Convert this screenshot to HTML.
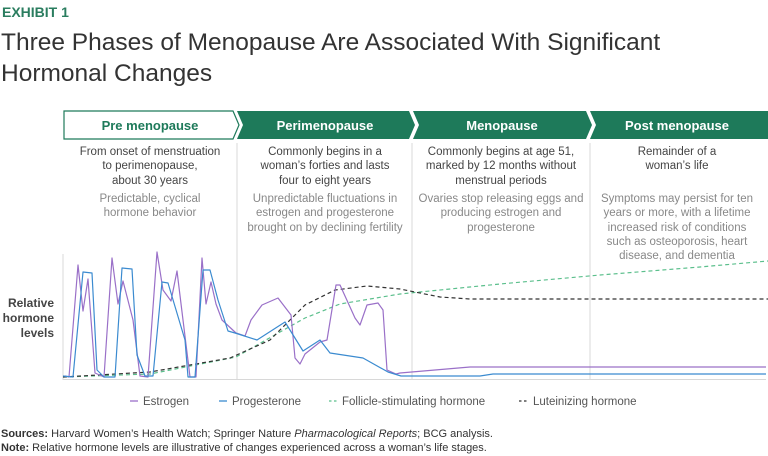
<!DOCTYPE html>
<html><head><meta charset="utf-8"><style>
body{margin:0;background:#fff;}
svg{display:block;font-family:"Liberation Sans",sans-serif;}
</style></head><body>
<svg width="768" height="456" viewBox="0 0 768 456">
<text x="2" y="17" font-size="14" font-weight="bold" fill="#2a7d5f">EXHIBIT 1</text>
<text x="1" y="50" font-size="24.5" fill="#333">Three Phases of Menopause Are Associated With Significant</text>
<text x="1" y="81" font-size="24.5" fill="#333">Hormonal Changes</text>

<polygon points="64,111 233,111 239,125 233,139 64,139" fill="#fff" stroke="#1e7a5a" stroke-width="1.2"/>
<polygon points="237,111 409,111 415,125 409,139 237,139 243,125" fill="#1e7a5a"/>
<polygon points="413,111 586,111 592,125 586,139 413,139 419,125" fill="#1e7a5a"/>
<polygon points="590,111 768,111 768,139 590,139 596,125" fill="#1e7a5a"/>
<g font-size="13" font-weight="bold" text-anchor="middle">
<text x="150" y="130" fill="#1e7a5a">Pre menopause</text>
<text x="325" y="130" fill="#fff">Perimenopause</text>
<text x="502" y="130" fill="#fff">Menopause</text>
<text x="677" y="130" fill="#fff">Post menopause</text>
</g>
<g stroke="#d8d8d8" stroke-width="1">
<line x1="237" y1="143" x2="237" y2="380"/>
<line x1="412" y1="143" x2="412" y2="380"/>
<line x1="590" y1="143" x2="590" y2="380"/>
<line x1="63" y1="254" x2="63" y2="380"/>
<line x1="63" y1="379.5" x2="766" y2="379.5"/>
</g>
<g font-size="11.5" text-anchor="middle" fill="#444">
<text x="150" y="155">From onset of menstruation</text>
<text x="150" y="169">to perimenopause,</text>
<text x="150" y="184">about 30 years</text>
<text x="325" y="155">Commonly begins in a</text>
<text x="325" y="169">woman’s forties and lasts</text>
<text x="325" y="184">four to eight years</text>
<text x="501" y="155">Commonly begins at age 51,</text>
<text x="501" y="169">marked by 12 months without</text>
<text x="501" y="184">menstrual periods</text>
<text x="677" y="155">Remainder of a</text>
<text x="677" y="169">woman’s life</text>
</g>
<g font-size="11.5" text-anchor="middle" fill="#888">
<text x="150" y="202">Predictable, cyclical</text>
<text x="150" y="216">hormone behavior</text>
<text x="325" y="202">Unpredictable fluctuations in</text>
<text x="325" y="216">estrogen and progesterone</text>
<text x="325" y="231">brought on by declining fertility</text>
<text x="501" y="202">Ovaries stop releasing eggs and</text>
<text x="501" y="216">producing estrogen and</text>
<text x="501" y="231">progesterone</text>
<text x="677" y="202">Symptoms may persist for ten</text>
<text x="677" y="216">years or more, with a lifetime</text>
<text x="677" y="231">increased risk of conditions</text>
<text x="677" y="245">such as osteoporosis, heart</text>
<text x="677" y="259">disease, and dementia</text>
</g>
<g font-size="12" font-weight="bold" fill="#444" text-anchor="end">
<text x="54" y="307">Relative</text>
<text x="54" y="322">hormone</text>
<text x="54" y="337">levels</text>
</g>
<g fill="none" stroke-width="1.2">
<polyline stroke="#5bbf8c" stroke-dasharray="4,3" points="63,377 150,374 236,357 280,332 305,318 340,304 400,294 500,284 600,275 700,267 768,261"/>
<polyline stroke="#333" stroke-dasharray="4,3" points="63,377 150,372 230,358 270,340 305,305 335,290 367,286 400,289 440,297 470,299 768,299"/>
<polyline stroke="#9a70c8" stroke-linejoin="round" points="65,376 69,377 78,265 83,311 88,279 95,373 104,377 112,258 118,304 123,281 133,320 140,376 148,377 157,252 163,290 171,301 177,271 183,320 190,377 196,377 202,258 206,304 211,282 216,304 222,320 236,333 245,336 251,320 262,305 278,298 291,315 295,358 300,364 305,354 320,342 327,340 336,285 340,285 355,318 360,325 367,305 378,303 383,310 387,370 396,374 400,373 470,367 495,367 766,367"/>
<polyline stroke="#3b8bd0" stroke-linejoin="round" points="63,376 73,377 83,272 92,273 97,370 104,377 115,377 122,268 132,269 137,355 145,376 153,376 162,282 168,283 185,340 188,377 195,377 203,270 210,270 218,300 228,331 235,333 257,340 285,322 303,351 320,340 330,353 363,358 388,372 401,376 480,376 493,374 766,374"/>
</g>
<g font-size="11.5" fill="#555">
<line x1="130" y1="401" x2="138" y2="401" stroke="#9a70c8" stroke-width="1.3"/>
<text x="143" y="405">Estrogen</text>
<line x1="219" y1="401" x2="227" y2="401" stroke="#3b8bd0" stroke-width="1.3"/>
<text x="232" y="405">Progesterone</text>
<line x1="329" y1="401" x2="338" y2="401" stroke="#5bbf8c" stroke-width="1.2" stroke-dasharray="2.5,2.5"/>
<text x="342" y="405">Follicle-stimulating hormone</text>
<line x1="519" y1="401" x2="528" y2="401" stroke="#333" stroke-width="1.2" stroke-dasharray="2.5,2.5"/>
<text x="533" y="405">Luteinizing hormone</text>
</g>
<g font-size="11" fill="#333">
<text x="1" y="437"><tspan font-weight="bold">Sources:</tspan> Harvard Women’s Health Watch; Springer Nature <tspan font-style="italic">Pharmacological Reports</tspan>; BCG analysis.</text>
<text x="1" y="451"><tspan font-weight="bold">Note:</tspan> Relative hormone levels are illustrative of changes experienced across a woman’s life stages.</text>
</g>
</svg>
</body></html>
